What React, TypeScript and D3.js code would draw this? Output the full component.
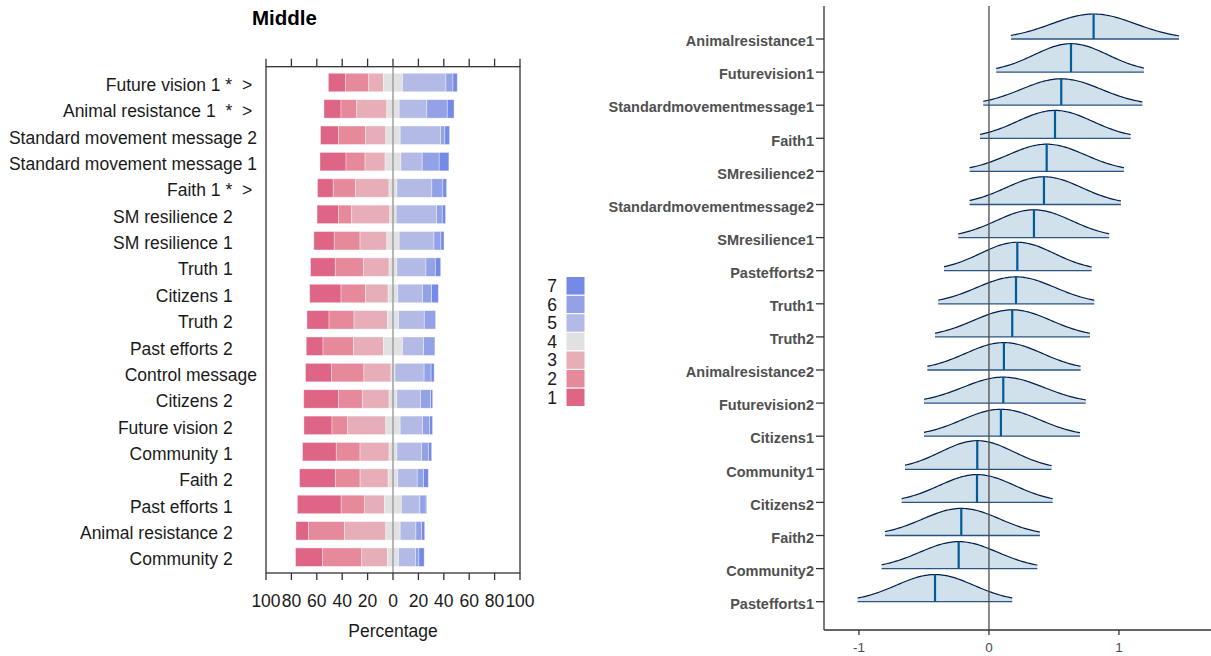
import React from 'react';
import * as d3 from 'd3';

// ---- left panel: likert responses (percent of respondents per level) ----
const itemLabels = [
  'Future vision 1 *  > ',
  'Animal resistance 1  *  > ',
  'Standard movement message 2',
  'Standard movement message 1',
  'Faith 1 *  > ',
  'SM resilience 2     ',
  'SM resilience 1     ',
  'Truth 1     ',
  'Citizens 1     ',
  'Truth 2     ',
  'Past efforts 2     ',
  'Control message',
  'Citizens 2     ',
  'Future vision 2     ',
  'Community 1     ',
  'Faith 2     ',
  'Past efforts 1     ',
  'Animal resistance 2     ',
  'Community 2     ',
];

const level1 = [13.4, 13.4, 14.2, 20.5, 12.4, 16.8, 16.1, 19.5, 24.7, 17.4, 13.2, 20.5, 27.4, 22.1, 26.6, 28.2, 34.5, 10.0, 21.3];
const level2 = [18.4, 12.4, 21.1, 15.0, 17.6, 10.5, 20.3, 22.1, 19.2, 19.7, 23.9, 25.5, 18.7, 12.4, 18.7, 19.5, 18.4, 28.2, 30.8];
const level3 = [11.6, 23.7, 16.1, 15.8, 26.3, 30.0, 21.1, 20.3, 17.9, 26.3, 23.7, 21.3, 21.1, 30.0, 22.9, 22.1, 15.8, 32.6, 20.3];
const level4 = [15.0, 9.7, 11.3, 12.4, 6.3, 5.0, 9.7, 6.1, 7.6, 8.7, 15.0, 3.2, 6.1, 11.3, 6.1, 7.6, 13.2, 11.3, 8.7];
const level5 = [34.2, 21.8, 31.8, 16.8, 27.4, 31.8, 27.4, 22.9, 19.5, 20.3, 16.6, 22.9, 18.7, 17.6, 19.5, 15.3, 14.5, 12.4, 13.4];
const level6 = [5.5, 16.1, 3.4, 13.4, 8.7, 4.5, 5.5, 7.4, 7.1, 8.9, 8.9, 5.5, 7.9, 5.5, 5.5, 5.0, 5.0, 4.5, 2.6];
const level7 = [3.4, 5.3, 3.7, 7.6, 2.9, 2.6, 2.4, 4.2, 5.3, 0, 0, 2.4, 1.6, 2.4, 2.4, 3.7, 0.5, 2.4, 4.2];

const levelNames = ['1', '2', '3', '4', '5', '6', '7'];
const levelColors = ['#df6586', '#e6899b', '#e8aeb8', '#e1e1e1', '#b3bae6', '#93a2e6', '#7589e6'];
const pctTicks = [-100, -80, -60, -40, -20, 0, 20, 40, 60, 80, 100];

// ---- right panel: posterior estimates ----
const ridgeNames = [
  'Animalresistance1', 'Futurevision1', 'Standardmovementmessage1', 'Faith1', 'SMresilience2',
  'Standardmovementmessage2', 'SMresilience1', 'Pastefforts2', 'Truth1', 'Truth2',
  'Animalresistance2', 'Futurevision2', 'Citizens1', 'Community1', 'Citizens2',
  'Faith2', 'Community2', 'Pastefforts1',
];
const ridgeMedians = [0.805, 0.631, 0.556, 0.508, 0.444, 0.423, 0.346, 0.218, 0.208, 0.179, 0.115, 0.11, 0.092, -0.09, -0.092, -0.213, -0.233, -0.415];
const ridgeLows = [0.169, 0.056, -0.044, -0.069, -0.149, -0.149, -0.236, -0.346, -0.39, -0.415, -0.474, -0.5, -0.5, -0.646, -0.672, -0.8, -0.826, -1.01];
const ridgeHighs = [1.462, 1.192, 1.18, 1.09, 1.038, 1.015, 0.925, 0.79, 0.81, 0.777, 0.705, 0.744, 0.7, 0.482, 0.49, 0.392, 0.372, 0.179];
const estTicks = [-1, 0, 1];

const FONT = '"Liberation Sans", Arial, sans-serif';

function LikertPanel() {
  const x = d3.scaleLinear().domain([-100, 100]).range([266, 520]);
  const y = d3.scalePoint<string>().domain(itemLabels).range([66.7, 573]).padding(0.6);
  const barH = y.step() * 0.7;
  const levels = [level1, level2, level3, level4, level5, level6, level7];
  const top = 66.7, bottom = 573;

  const legendY = d3.scaleBand<string>().domain([...levelNames].reverse()).range([276.5, 406.5]);

  return (
    <g fontFamily={FONT}>
      <text x={252} y={25} fontSize={20.5} fontWeight="bold" fill="#000">Middle</text>

      {itemLabels.map((lab, i) => {
        const yc = y(lab)!;
        let start = -(level1[i] + level2[i] + level3[i] + level4[i] / 2);
        return (
          <g key={lab}>
            {levels.map((lv, k) => {
              const x0 = start;
              start += lv[i];
              if (lv[i] <= 0) return null;
              return (
                <rect key={k} x={x(x0)} y={yc - barH / 2} width={x(x0 + lv[i]) - x(x0)} height={barH}
                  fill={levelColors[k]} stroke="#ffffff" strokeOpacity={0.45} strokeWidth={0.8} />
              );
            })}
            <text x={257} y={yc + 2} dy="0.36em" textAnchor="end" fontSize={17.5} fill="#1a1a1a"
              style={{ whiteSpace: 'pre' }}>{lab}</text>
          </g>
        );
      })}

      <line x1={x(0)} x2={x(0)} y1={top} y2={bottom} stroke="#9a9a9a" strokeWidth={1.4} />
      <rect x={x(-100)} y={top} width={x(100) - x(-100)} height={bottom - top} fill="none" stroke="#333" strokeWidth={1.3} />

      {pctTicks.map(t => (
        <g key={t}>
          <line x1={x(t)} x2={x(t)} y1={top - 8} y2={top} stroke="#333" strokeWidth={1.3} />
          <line x1={x(t)} x2={x(t)} y1={bottom} y2={bottom + 7} stroke="#333" strokeWidth={1.3} />
          <text x={x(t)} y={606.5} textAnchor="middle" fontSize={17.5} fill="#1a1a1a">{Math.abs(t)}</text>
        </g>
      ))}
      <text x={x(0)} y={637} textAnchor="middle" fontSize={17.5} fill="#1a1a1a">Percentage</text>

      {levelNames.map((n, k) => (
        <g key={n}>
          <rect x={566} y={legendY(n)!} width={19} height={legendY.bandwidth()} fill={levelColors[k]} stroke="#fff" strokeWidth={1} />
          <text x={557} y={legendY(n)! + legendY.bandwidth() / 2} dy="0.36em" textAnchor="end" fontSize={17.5} fill="#1a1a1a">{n}</text>
        </g>
      ))}
    </g>
  );
}

function RidgePanel() {
  const x = d3.scaleLinear().domain([-1.269, 1.708]).range([824, 1211]);
  const y = d3.scalePoint<string>().domain(ridgeNames).range([39, 601.7]);
  const axisTop = 6, axisBottom = 630;
  const pxPerDensity = y.step() * 0.612;

  return (
    <g fontFamily={FONT}>
      {ridgeNames.map((name, i) => {
        const base = y(name)!;
        const med = ridgeMedians[i], lo = ridgeLows[i], hi = ridgeHighs[i];
        const sd = (hi - lo) / 4;
        const dens = (v: number) => Math.exp(-0.5 * ((v - med) / sd) ** 2) / (sd * Math.sqrt(2 * Math.PI));
        const xs = d3.range(0, 81).map(k => lo + (hi - lo) * k / 80);
        const pts: [number, number][] = xs.map(v => [x(v), base - dens(v) * pxPerDensity]);
        const line = d3.line().curve(d3.curveBasis)(pts)!;
        const area = d3.area<[number, number]>().x(d => d[0]).y0(base).y1(d => d[1]).curve(d3.curveBasis)(pts)!;
        return (
          <g key={name}>
            <path d={area} fill="#d1e1ec" />
            <line x1={x(lo)} x2={x(hi)} y1={base} y2={base} stroke="#2b5580" strokeWidth={1.3} />
            <path d={line} fill="none" stroke="#011f4b" strokeWidth={1.2} />
            <line x1={x(med)} x2={x(med)} y1={base} y2={base - dens(med) * pxPerDensity} stroke="#005b96" strokeWidth={2.2} />
            <line x1={816} x2={824} y1={base} y2={base} stroke="#333" strokeWidth={1.3} />
            <text x={814} y={base + 2} dy="0.36em" textAnchor="end" fontSize={14.5} fontWeight="bold" fill="#505050">{name}</text>
          </g>
        );
      })}

      <line x1={x(0)} x2={x(0)} y1={axisTop} y2={axisBottom} stroke="#4d4d4d" strokeWidth={1.3} />
      <line x1={824} x2={824} y1={axisTop} y2={axisBottom} stroke="#333" strokeWidth={1.3} />
      <line x1={824} x2={1211} y1={axisBottom} y2={axisBottom} stroke="#333" strokeWidth={1.3} />
      {estTicks.map(t => (
        <g key={t}>
          <line x1={x(t)} x2={x(t)} y1={axisBottom} y2={axisBottom + 5} stroke="#333" strokeWidth={1.3} />
          <text x={x(t)} y={651.5} textAnchor="middle" fontSize={13.5} fill="#4d4d4d">{t}</text>
        </g>
      ))}
    </g>
  );
}

export default function App() {
  return (
    <svg width={1211} height={656} style={{ position: 'absolute', left: 0, top: 0, background: '#fff' }}>
      <rect width={1211} height={656} fill="#fff" />
      <LikertPanel />
      <RidgePanel />
    </svg>
  );
}
